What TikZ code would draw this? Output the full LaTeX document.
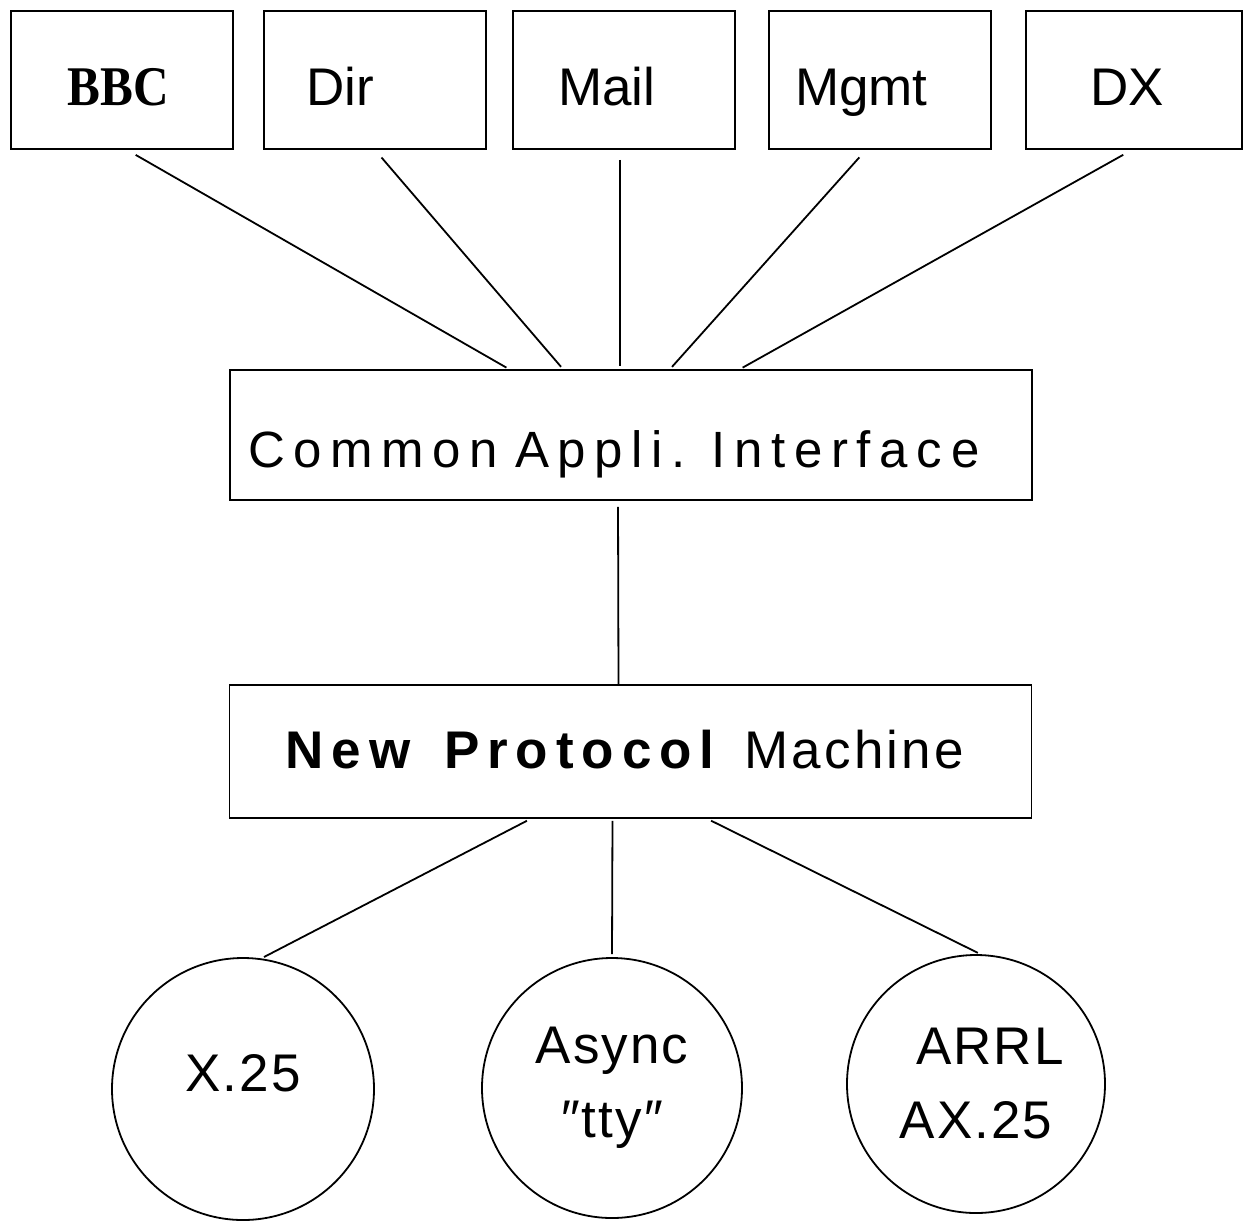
\documentclass[tikz,border=0pt]{standalone}
\usepackage{fontspec}
\setmainfont{Liberation Sans}
\newfontfamily\bbcfont[FakeStretch=0.88]{Liberation Serif}
\newfontfamily\widefont[LetterSpace=17]{Liberation Sans}
\newfontfamily\npfont[LetterSpace=15]{Liberation Sans}
\newfontfamily\machfont[LetterSpace=6]{Liberation Sans}
\newfontfamily\linkfont[LetterSpace=4]{Liberation Sans}
\usetikzlibrary{calc}

\tikzset{
  appbox/.style={draw, line width=0.9pt, minimum width=111pt, minimum height=69pt,
    inner sep=0pt, font=\fontsize{26.5}{30}\selectfont, text height=25pt, text depth=0pt,
    align=left},
  layerbox/.style={draw, line width=0.9pt, minimum width=401pt, minimum height=65pt,
    inner sep=0pt, align=left},
  linkbox/.style={draw, circle, line width=0.9pt, minimum size=130pt, inner sep=0pt,
    align=center, font=\fontsize{26.5}{37}\linkfont},
  wire/.style={line width=0.9pt, shorten <=5pt, shorten >=1.5pt}
}

\begin{document}
\begin{tikzpicture}[x=0.5pt, y=-0.5pt]
    \useasboundingbox (0,0) rectangle (1250,1223);

    % Applications on top (text width sets the left margin of each label)
    \node[appbox, text width=54pt, font=\fontsize{28}{30}\bbcfont\bfseries] (bbc) at (122,80) {BBC};
    \node[appbox, text width=69pt] (dir)  at (375,80)  {Dir};
    \node[appbox, text width=66pt] (mail) at (624,80)  {Mail};
    \node[appbox, text width=85pt] (mgmt) at (880,80)  {Mgmt};
    \node[appbox, minimum width=108pt, text width=44pt] (dx) at (1134,80) {DX};

    % The two layers
    \node[layerbox, text width=383pt, text height=32pt, text depth=0pt,
          font=\fontsize{25.5}{30}\widefont] (cai) at (631,435) {Common Appli. Interface};
    \node[layerbox, minimum height=66.5pt, text width=345pt, text height=17pt, text depth=0pt,
          font=\fontsize{26.5}{30}\selectfont] (npm) at (630.5,751.5)
          {{\npfont\bfseries New\hspace{8pt} Protocol}\hspace{15pt}{\machfont Machine}};

    % Links underneath
    \node[linkbox, minimum size=131pt, text height=19pt, text depth=17pt] (x25) at (243,1089) {X.25};
    \node[linkbox] (async) at (612,1088) {Async\\″tty″};
    \node[linkbox, minimum size=129pt] (arrl) at (976,1084) {\hspace*{14pt}ARRL\\AX.25};

    % Applications down to the interface
    \foreach \app/\from/\to in {bbc/5/-122, dir/0/-68, mail/-4/-11, mgmt/-14/39, dx/-2/109}
      \draw[wire] ($(\app.south)+(\from,0)$) -- ($(cai.north)+(\to,0)$);

    % Interface to protocol machine
    \draw[wire, shorten <=3pt, shorten >=0pt] ($(cai.south)+(-13,0)$) -- ($(npm.north)+(-12,0)$);

    % Protocol machine to the links
    \draw[wire, shorten <=2pt] ($(npm.south)+(-100,0)$) -- (x25.82);
    \draw[wire, shorten <=1pt] ($(npm.south)+(-18,0)$) -- (async.north);
    \draw[wire, shorten <=2pt] ($(npm.south)+(77,0)$) -- (arrl.88);
\end{tikzpicture}
\end{document}
